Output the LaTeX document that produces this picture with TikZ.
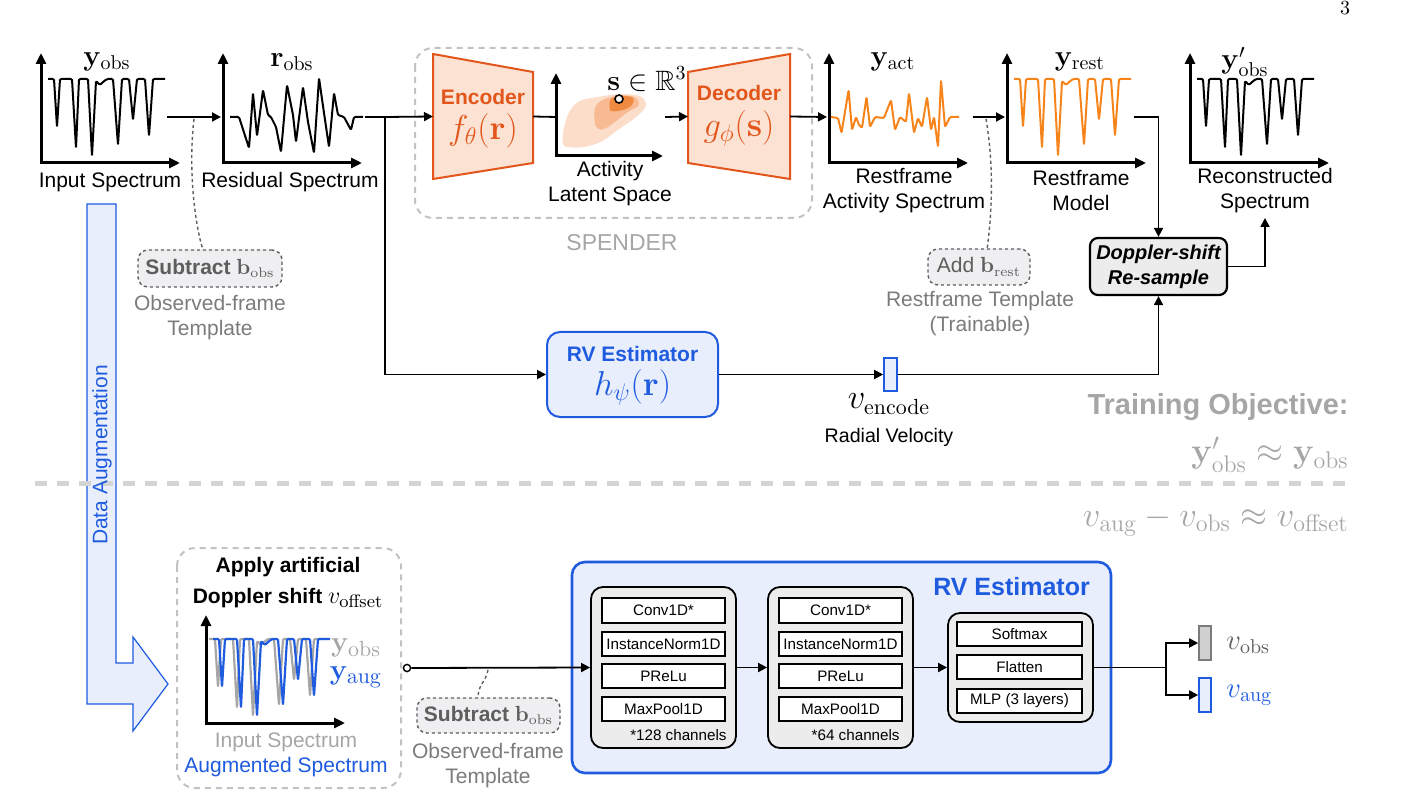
\documentclass[tikz,border=0pt]{standalone}
\usepackage{amssymb}
\usepackage[no-math]{fontspec}
\setmainfont{Liberation Sans}
\usetikzlibrary{arrows.meta}
\definecolor{orS}{HTML}{F7841A}
\definecolor{orD}{HTML}{E2561B}
\definecolor{orF}{HTML}{FCE2D3}
\definecolor{orM}{HTML}{F8BA93}
\definecolor{orK}{HTML}{F08A40}
\definecolor{orL}{HTML}{FBDDC9}
\definecolor{bl}{HTML}{1E5BDF}
\definecolor{blF}{HTML}{E9EEFC}
\definecolor{gD}{HTML}{5E5E5E}
\definecolor{gM}{HTML}{7B7B7B}
\definecolor{gL}{HTML}{A6A6A6}
\definecolor{gB}{HTML}{C2C2C2}
\definecolor{gSep}{HTML}{D4D4D4}
\definecolor{boxF}{HTML}{ECECEC}
\definecolor{tF}{HTML}{EFEEF0}
\definecolor{vG}{HTML}{D0D0D0}

\newcommand\specAbs[1]{\draw[#1] (7,-84) -- (13,-84) -- (16,-36) -- (19,-84) -- (31,-84) -- (35,-15) -- (38,-84) -- (47,-84) -- (51,-7) -- (55,-82) -- (59,-78) -- (62,-81) -- (66,-84) -- (72,-84) -- (77,-18) -- (81,-84) -- (88,-84) -- (92,-43) -- (96,-84) -- (104,-84) -- (108,-27) -- (112,-84) -- (124,-84);}
\newcommand\specRes[1]{\draw[#1] (7,-46) -- (16,-46) -- (26,-15) -- (30,-70) -- (34,-27) -- (40,-73) -- (45,-48) -- (48,-46) -- (53,-36) -- (58,-11) -- (64,-78) -- (70,-48) -- (73,-21) -- (80,-76) -- (85,-41) -- (91,-10) -- (96,-85) -- (101,-50) -- (106,-16) -- (111,-70) -- (115,-48) -- (121,-46) -- (128,-33) -- (131,-46) -- (140,-46);}
\newcommand\specAct[1]{\draw[#1] (2,-46) -- (9,-45) -- (12.5,-30) -- (19.6,-73) -- (23,-33) -- (27,-46) -- (30,-38) -- (33,-35) -- (37.5,-66) -- (41,-36) -- (46,-46) -- (55,-45) -- (62,-63) -- (66,-33) -- (71,-46) -- (77,-41) -- (80,-70) -- (85,-30) -- (89,-45) -- (93,-36) -- (98,-66) -- (102,-33) -- (105,-46) -- (109,-16) -- (112,-83) -- (116,-36) -- (121,-46) -- (130,-46);}

\begin{document}
\begin{tikzpicture}[x=0.5pt,y=-0.5pt,
  txt/.style={font=\fontsize{10.5}{12.5}\selectfont, inner sep=0pt, align=center},
  mth/.style={font=\fontsize{14.5}{16}\selectfont, inner sep=0pt},
  big/.style={font=\fontsize{18}{20}\selectfont, inner sep=0pt},
  ax/.style={line width=1.5pt, {Triangle[length=5.5pt,width=5pt]}-{Triangle[length=5.5pt,width=5pt]}},
  con/.style={line width=0.9pt, -{Triangle[length=4.5pt,width=4.5pt]}},
  ln/.style={line width=0.9pt},
  spk/.style={line width=1pt, line join=round, rounded corners=0.6pt},
  tmpl/.style={draw=gD, dash pattern=on 1.6pt off 1.4pt, line width=0.7pt, fill=tF, rounded corners=5pt, inner sep=0pt, text=gD, font=\fontsize{10.5}{12.5}\selectfont\bfseries},
  dashbox/.style={draw=gB, line width=1pt, dash pattern=on 3pt off 2.5pt, rounded corners=9pt},
  dotc/.style={draw=gD, line width=0.7pt, dash pattern=on 1.6pt off 1.4pt},
  blk/.style={draw=black, line width=0.9pt, fill=boxF, rounded corners=6pt, inner sep=0pt},
  lay/.style={draw=black, line width=0.6pt, fill=white, inner sep=0pt, font=\fontsize{7.6}{9}\selectfont},
  inv/.style={inner sep=0pt, outer sep=0pt}
]
\useasboundingbox (0,0) rectangle (1417,812);

% page number
\node[inner sep=0pt, anchor=north, font=\fontsize{10}{12}\selectfont] (pg) at (1345,1) {$3$};

% ---------------- Data augmentation arrow ----------------
\draw[draw=bl, line width=0.6pt, fill=blF] (87,204) -- (116,204) -- (116,663) -- (133,663) -- (133,637) -- (168,684) -- (133,731) -- (133,704) -- (87,704) -- cycle;
\draw[gSep, line width=2.5pt, dash pattern=on 6pt off 5pt] (35,483) -- (1352,483);
\node[txt, text=bl, rotate=90] (da) at (102,455) {Data Augmentation};

% ---------------- Input spectrum ----------------
\begin{scope}[shift={(41,163)}]
  \draw[ax] (0,-110) -- (0,0) -- (139,0);
  \specAbs{spk,black}
\end{scope}
\node[mth] (yobsL) at (107,62) {$\mathbf{y}_{\mathrm{obs}}$};
\node[txt] (inL) at (110,182) {Input Spectrum};

\coordinate (a1) at (167,117);
\coordinate (a2) at (221,117);
\draw[con] (a1) -- (a2);

% ---------------- Residual spectrum ----------------
\begin{scope}[shift={(223,163)}]
  \draw[ax] (0,-110) -- (0,0) -- (139,0);
  \specRes{spk,black}
\end{scope}
\node[mth] (robsL) at (292,62) {$\mathbf{r}_{\mathrm{obs}}$};
\node[txt] (resL) at (290,182) {Residual Spectrum};

% subtract b_obs (top)
\node[tmpl, minimum width=72pt, minimum height=18.5pt] (sub1) at (210,268.5) {Subtract $\mathbf{b}_{\mathrm{obs}}$};
\coordinate (sub1top) at (203,250);
\coordinate (sub1src) at (194,119);
\draw[dotc] (sub1src) .. controls (188,170) and (195,225) .. (sub1top);
\node[txt, text=gM] (sub1L) at (210,317.5) {Observed-frame\\Template};

% ---------------- SPENDER ----------------
\draw[dashbox] (415,48) rectangle (812,218);
\node[txt, text=gL, font=\fontsize{11.5}{13}\selectfont] (spL) at (622,243) {SPENDER};

% encoder
\draw[draw=orD, line width=1pt, fill=orF] (433,54) -- (533,72) -- (533,163) -- (433,179) -- cycle;
\node[inv, minimum width=50pt, minimum height=62.5pt] (enc) at (483,116.5) {};
\node[txt, text=orD, font=\fontsize{10.5}{12.5}\selectfont\bfseries] (encT) at (483,97) {Encoder};
\node[big, text=orD] (encF) at (483,131) {$f_{\theta}(\mathbf{r})$};

% latent space
\draw[orL, fill=orL] plot[smooth cycle, tension=0.7] coordinates {(563,140) (573,107) (600,97) (633,95) (645,102) (640,113) (617,130) (597,143) (573,147)};
\draw[orM, fill=orM] plot[smooth cycle, tension=0.7] coordinates {(595,120) (597,105) (613,97) (633,97) (638,105) (627,112) (607,127) (598,128)};
\draw[orK, fill=orK] plot[smooth cycle, tension=0.7] coordinates {(610,107) (613,98) (630,97) (633,102) (627,108) (613,111)};
\begin{scope}[shift={(556,156)}]
  \draw[ax] (0,-83) -- (0,0) -- (107,0);
\end{scope}
\node[circle, draw=black, fill=white, line width=0.8pt, inner sep=0pt, minimum size=4pt] (spt) at (619,99) {};
\node[mth, font=\fontsize{14}{16}\selectfont] (sL) at (647,79) {$\mathbf{s}\in\mathbb{R}^3$};
\node[txt] (latL) at (610,183.5) {Activity\\Latent Space};

% decoder
\draw[draw=orD, line width=1pt, fill=orF] (688,72) -- (790,54) -- (790,179) -- (688,163) -- cycle;
\node[inv, minimum width=51pt, minimum height=62.5pt] (dec) at (739,116.5) {};
\node[txt, text=orD, font=\fontsize{10.5}{12.5}\selectfont\bfseries] (decT) at (739,93) {Decoder};
\node[big, text=orD] (decF) at (739,128) {$g_{\phi}(\mathbf{s})$};

\coordinate (r1) at (365,117);
\coordinate (jn) at (385,117);
\coordinate (encOut) at (556,117);
\coordinate (latOut) at (665,117);
\coordinate (actIn) at (827,117);
\draw[ln] (r1) -- (jn);
\draw[con] (jn) -- (enc.west);
\draw[ln] (enc.east) -- (encOut);
\draw[con] (latOut) -- (dec.west);
\draw[con] (dec.east) -- (actIn);

% ---------------- Restframe activity spectrum ----------------
\begin{scope}[shift={(829,163)}]
  \draw[ax] (0,-110) -- (0,0) -- (139,0);
  \specAct{spk,orS}
\end{scope}
\node[mth] (yactL) at (893,62) {$\mathbf{y}_{\mathrm{act}}$};
\node[txt] (actL) at (904,190.5) {Restframe\\Activity Spectrum};

\coordinate (b1) at (973,117);
\coordinate (b2) at (1005,117);
\draw[con] (b1) -- (b2);

% add b_rest
\node[tmpl, minimum width=51pt, minimum height=18pt] (addb) at (979,267) {\fontsize{10.5}{12.5}\selectfont\mdseries Add $\mathbf{b}_{\mathrm{rest}}$};
\coordinate (addtop) at (987,249);
\coordinate (addsrc) at (986,119);
\draw[dotc] (addsrc) .. controls (994,165) and (992,215) .. (addtop);
\node[txt, text=gM] (addL) at (980,314) {Restframe Template\\(Trainable)};

% ---------------- Restframe model ----------------
\begin{scope}[shift={(1007,163)}]
  \draw[ax] (0,-110) -- (0,0) -- (139,0);
  \specAbs{spk,orS}
\end{scope}
\node[mth] (yrestL) at (1080,62) {$\mathbf{y}_{\mathrm{rest}}$};
\node[txt] (restL) at (1081,190.5) {Restframe\\Model};

% Doppler box
\node[draw=black, line width=1.1pt, fill=boxF, rounded corners=4pt, minimum width=68.5pt, minimum height=28.5pt, inner sep=0pt, align=center, font=\fontsize{10}{12.5}\selectfont\bfseries\itshape] (dop) at (1158.5,266.5) {Doppler-shift\\Re-sample};
\coordinate (restOut) at (1134,117);
\draw[con] (restOut) -| (dop.north);
\coordinate (reconIn) at (1265,218);
\draw[con] (dop.east) -| (reconIn);

% ---------------- Reconstructed spectrum ----------------
\begin{scope}[shift={(1190,163)}]
  \draw[ax] (0,-110) -- (0,0) -- (139,0);
  \specAbs{spk,black}
\end{scope}
\node[mth] (yrecL) at (1245,62) {$\mathbf{y}'_{\mathrm{obs}}$};
\node[txt] (recL) at (1265,190.5) {Reconstructed\\Spectrum};

% ---------------- RV estimator (top) ----------------
\node[draw=bl, line width=1pt, fill=blF, rounded corners=6.5pt, minimum width=85.5pt, minimum height=42.5pt, inner sep=0pt] (rv) at (632.5,374.5) {};
\node[txt, text=bl, font=\fontsize{10.5}{12.5}\selectfont\bfseries] (rvT) at (632.5,354) {RV Estimator};
\node[big, text=bl] (rvF) at (632.5,387) {$h_{\psi}(\mathbf{r})$};
\draw[con] (jn) |- (rv.west);
\node[draw=bl, line width=0.8pt, fill=blF, minimum width=6.5pt, minimum height=16.5pt, inner sep=0pt] (venc) at (890.5,374.5) {};
\draw[con] (rv.east) -- (venc.west);
\draw[con] (venc.east) -| (dop.south);
\node[mth, font=\fontsize{16}{18}\selectfont] (vencL) at (889,404) {$v_{\mathrm{encode}}$};
\node[txt, font=\fontsize{9.8}{12}\selectfont] (rvelL) at (889,437) {Radial Velocity};

% ---------------- Objectives ----------------
\node[inner sep=0pt, anchor=east, text=gL, font=\fontsize{14.5}{16}\selectfont\bfseries] (toL) at (1349,407) {Training Objective:};
\node[inner sep=0pt, anchor=east, text=gL, font=\fontsize{18}{20}\selectfont] (toM) at (1349,455) {$\mathbf{y}'_{\mathrm{obs}}\approx\mathbf{y}_{\mathrm{obs}}$};
\node[inner sep=0pt, anchor=east, text=gL, font=\fontsize{18}{20}\selectfont] (augM) at (1349,521) {$v_{\mathrm{aug}}-v_{\mathrm{obs}}\approx v_{\mathrm{offset}}$};

% ---------------- Bottom: augmentation box ----------------
\draw[dashbox] (177,548) rectangle (401,788);
\node[txt, font=\fontsize{10.5}{12.5}\selectfont\bfseries] (appL) at (288,567) {Apply artificial};
\node[txt, font=\fontsize{10.5}{12.5}\selectfont\bfseries] (dopL) at (288,598) {Doppler shift {\mdseries\fontsize{12.5}{14}\selectfont$v_{\mathrm{offset}}$}};
\begin{scope}[shift={(202,723)}]
  \specAbs{spk,gL,line width=1.1pt}
\end{scope}
\begin{scope}[shift={(206,723)}]
  \specAbs{spk,bl,line width=1.1pt}
  \draw[ax] (0,-108) -- (0,0) -- (139,0);
\end{scope}
\node[mth, font=\fontsize{15}{17}\selectfont, text=gL] (yo2) at (356,648) {$\mathbf{y}_{\mathrm{obs}}$};
\node[mth, font=\fontsize{15}{17}\selectfont, text=bl] (ya2) at (356,677) {$\mathbf{y}_{\mathrm{aug}}$};
\node[txt, text=gL] (inL2) at (286,742) {Input Spectrum};
\node[txt, text=bl] (augL) at (286,767) {Augmented Spectrum};

\node[circle, draw=black, fill=white, line width=0.7pt, inner sep=0pt, minimum size=3.6pt] (oc) at (407,668) {};

% subtract b_obs (bottom)
\node[tmpl, minimum width=71.5pt, minimum height=17.5pt] (sub2) at (488.5,715.5) {Subtract $\mathbf{b}_{\mathrm{obs}}$};
\coordinate (sub2top) at (478,698);
\coordinate (sub2src) at (488,670);
\draw[dotc] (sub2src) .. controls (486,682) and (478,684) .. (sub2top);
\node[txt, text=gM] (sub2L) at (488,765.5) {Observed-frame\\Template};

% ---------------- Bottom: RV estimator detail ----------------
\draw[draw=bl, line width=1.3pt, fill=blF, rounded corners=6.5pt] (572,562) rectangle (1111,773);
\node[inner sep=0pt, text=bl, font=\fontsize{12.5}{14}\selectfont\bfseries] (rvbT) at (1011.5,587) {RV Estimator};

\node[blk, minimum width=72.5pt, minimum height=80.5pt] (bk1) at (663.5,667.5) {};
\node[lay, minimum width=61.5pt, minimum height=12.5pt] (c1) at (663.5,610.5) {Conv1D*};
\node[lay, minimum width=61.5pt, minimum height=12pt] (n1) at (663.5,644) {InstanceNorm1D};
\node[lay, minimum width=61.5pt, minimum height=12pt] (p1) at (663.5,676) {PReLu};
\node[lay, minimum width=61.5pt, minimum height=12pt] (m1) at (663.5,709) {MaxPool1D};
\node[inner sep=0pt, anchor=east, font=\fontsize{7.6}{9}\selectfont] (ch1) at (727,735) {*128 channels};

\node[blk, minimum width=72.5pt, minimum height=80.5pt] (bk2) at (840.5,667.5) {};
\node[lay, minimum width=61.5pt, minimum height=12.5pt] (c2) at (840.5,610.5) {Conv1D*};
\node[lay, minimum width=61.5pt, minimum height=12pt] (n2) at (840.5,644) {InstanceNorm1D};
\node[lay, minimum width=61.5pt, minimum height=12pt] (p2) at (840.5,676) {PReLu};
\node[lay, minimum width=61.5pt, minimum height=12pt] (m2) at (840.5,709) {MaxPool1D};
\node[inner sep=0pt, anchor=east, font=\fontsize{7.6}{9}\selectfont] (ch2) at (900,735) {*64 channels};

\node[blk, minimum width=72.5pt, minimum height=54.5pt] (bk3) at (1020.5,667.5) {};
\node[lay, minimum width=62.5pt, minimum height=12pt] (s3) at (1019.5,634) {Softmax};
\node[lay, minimum width=62.5pt, minimum height=12pt] (f3) at (1019.5,667) {Flatten};
\node[lay, minimum width=62.5pt, minimum height=12pt] (l3) at (1019.5,701) {MLP (3 layers)};

\draw[con] (oc.east) -- (bk1.west);
\draw[con] (bk1.east) -- (bk2.west);
\draw[con] (bk2.east) -- (bk3.west);

\coordinate (fk) at (1166,667.5);
\draw[ln] (bk3.east) -- (fk);
\node[draw=gM, line width=0.8pt, fill=vG, minimum width=6pt, minimum height=17pt, inner sep=0pt] (vo) at (1205,643) {};
\node[draw=bl, line width=0.8pt, fill=blF, minimum width=6pt, minimum height=17pt, inner sep=0pt] (va) at (1205,695) {};
\draw[con] (fk) |- (vo.west);
\draw[con] (fk) |- (va.west);
\node[mth, anchor=west, text=gD] (voL) at (1226,645) {$v_{\mathrm{obs}}$};
\node[mth, anchor=west, text=bl] (vaL) at (1226,695) {$v_{\mathrm{aug}}$};

\end{tikzpicture}
\end{document}
